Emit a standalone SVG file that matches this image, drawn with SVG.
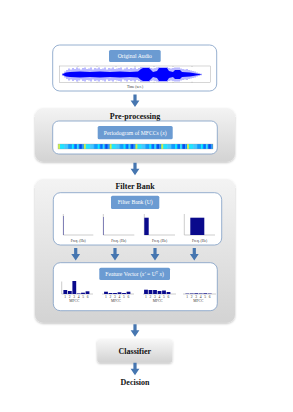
<svg xmlns="http://www.w3.org/2000/svg" width="293" height="412" viewBox="0 0 293 412">
<style>
text{font-family:"Liberation Serif","Times New Roman",serif;}
.title{font-size:8px;font-weight:bold;fill:#111;text-anchor:middle;}
.lbl{font-size:5.7px;fill:#fff;text-anchor:middle;}
.lblbox{fill:#6b9bd2;}
.inner{fill:#fff;stroke:#7c9cc4;stroke-width:0.8;}
.outer{fill:url(#gray);filter:url(#sh);}
.tiny{font-size:3.6px;fill:#333;text-anchor:middle;}
.ax{stroke:#9a9a9a;stroke-width:0.5;fill:none;}
.bar{fill:#0a0a8c;}
.arrow{fill:#4676b0;}
</style>
<defs>
<linearGradient id="gray" x1="0" y1="0" x2="0" y2="1">
<stop offset="0" stop-color="#f3f3f3"/>
<stop offset="1" stop-color="#d3d3d3"/>
</linearGradient>
<linearGradient id="cls" x1="0" y1="0" x2="0" y2="1">
<stop offset="0" stop-color="#f7f7f7"/>
<stop offset="1" stop-color="#d2d2d2"/>
</linearGradient>
<filter id="sh" x="-10%" y="-10%" width="120%" height="130%">
<feDropShadow dx="0" dy="1" stdDeviation="1" flood-color="#000" flood-opacity="0.25"/>
</filter>
<pattern id="jet" patternUnits="userSpaceOnUse" x="58" y="144" width="25.8" height="5">
<rect x="0" y="0" width="2" height="5" fill="#c8f050"/>
<rect x="2" y="0" width="4" height="5" fill="#20e4ff"/>
<rect x="6" y="0" width="4" height="5" fill="#40c8ff"/>
<rect x="10" y="0" width="4" height="5" fill="#109cff"/>
<rect x="14" y="0" width="2" height="5" fill="#00e8ff"/>
<rect x="16" y="0" width="3" height="5" fill="#0070ff"/>
<rect x="19" y="0" width="2" height="5" fill="#20d8ff"/>
<rect x="21" y="0" width="3" height="5" fill="#0050f0"/>
<rect x="24" y="0" width="1.8" height="5" fill="#1090ff"/>
</pattern>
<path id="arr" d="M-1.6,0 H1.6 V6 H4.4 L0,12.5 L-4.4,6 H-1.6 Z"/>
</defs>

<g id="node-original-audio">
<rect class="inner" x="52.7" y="45" width="164" height="46" rx="7"/>
<rect class="lblbox" x="109" y="50" width="51.7" height="12" rx="1.5"/>
<text class="lbl" x="134.8" y="58">Original Audio</text>
<rect x="59.3" y="66" width="151.4" height="16.7" fill="#fff" stroke="#9a9a9a" stroke-width="0.4"/>
<path class="ax" stroke-width="0.3" d="M78,66v1M97,66v1M116,66v1M135,66v1M154,66v1M173,66v1M192,66v1M78,82.7v-1M97,82.7v-1M116,82.7v-1M135,82.7v-1M154,82.7v-1M173,82.7v-1M192,82.7v-1"/>
<path fill="#0000ff" d="M62,74.5 L64,73.5 L66,72.5 L70,72 L80,71.5 L90,72 L100,71.5 L110,72 L120,71.5 L130,72 L138,71.5 L141,69 L143,68 L149,68 L151,70 L153,72 L157,71 L159,68 L167,68 L169,71 L173,72 L175,70 L180,70 L182,72 L190,72.5 L196,73.5 L202,74.5 L196,75.5 L190,76.5 L182,77 L180,79 L175,79 L173,77 L169,78 L167,81 L159,81 L157,78 L153,77 L151,79 L149,81 L143,81 L141,80 L138,77.5 L130,77 L120,77.5 L110,77 L100,77.5 L90,77 L80,77.5 L70,77 L66,76.5 L64,75.5 Z"/>
<path stroke="#0000ff" stroke-width="0.55" fill="none" d="M63,73V76M65,71.5V77.5M67,70V79M69,68.5V80.5M71,69.5V79.5M73,68V81M75,69V80M77,67.5V81.5M79,68.5V80.5M81,69.5V79.5M83,68V81M85,67.5V81.5M87,69V80M89,68.5V80.5M91,67.5V81.5M93,69.5V79.5M95,68V81M97,68.5V80.5M99,67.5V81.5M101,69V80M103,68.5V80.5M105,67.5V81.5M107,69.5V79.5M109,68V81M111,68.5V80.5M113,67.5V81.5M115,69V80M117,68.5V80.5M119,68V81M121,67.5V81.5M123,69.5V79.5M125,68.5V80.5M127,67.5V81.5M129,69V80M131,68V81M133,68.5V80.5M135,67.5V81.5M137,69V80M139,68V81M141,67V82M143,67V82M145,67V82M147,67V82M149,67V82M151,68V81M153,68.5V80.5M155,68V81M157,67.5V81.5M159,67V82M161,67V82M163,67V82M165,67V82M167,67V82M169,68V81M171,68.5V80.5M173,68V81M175,67.5V81.5M177,67.5V81.5M179,67.5V81.5M181,68.5V80.5M183,69V80M185,69.5V79.5M187,69V80M189,70V79M191,70.5V78.5M193,71V78M195,71.5V77.5M197,72.5V76.5M199,73V76M201,73.7V75.3"/>
<text class="tiny" x="135" y="88" font-size="3.3px">Time (sec.)</text>
</g>

<g id="node-preprocessing">
<rect class="outer" x="35" y="108.3" width="200" height="53.4" rx="8"/>
<text class="title" x="135" y="118.8">Pre-processing</text>
<rect class="inner" x="52.7" y="121" width="164.6" height="33" rx="6"/>
<rect class="lblbox" x="97.7" y="126" width="75" height="13.3" rx="1.5"/>
<text class="lbl" x="135.2" y="134.6" font-size="5.5px">Periodogram of MFCCs (<tspan font-style="italic">x</tspan>)</text>
<rect x="58" y="144" width="155" height="5" fill="url(#jet)" stroke="#9a9a9a" stroke-width="0.3"/>
</g>

<g id="node-filterbank">
<rect class="outer" x="35" y="179.3" width="200" height="143.4" rx="8"/>
<text class="title" x="135" y="188.5">Filter Bank</text>
<rect class="inner" x="53.3" y="192.7" width="168.4" height="52.3" rx="7"/>
<rect class="lblbox" x="111" y="195.7" width="48.3" height="13.3" rx="1.5"/>
<text class="lbl" x="135.2" y="204.4" font-size="5.8px">Filter Bank (U)</text>
<g id="fb-plots">
<path class="ax" d="M63.3,214V235H93.3M103.3,214V235H134.3M144.3,214V235H175M184.3,214V235H215"/>
<rect class="bar" x="63.3" y="216" width="0.7" height="19" opacity="0.6"/>
<rect class="bar" x="103.3" y="217" width="0.7" height="18" opacity="0.6"/>
<rect class="bar" x="144.3" y="217.7" width="4.4" height="17.3"/>
<rect class="bar" x="190.3" y="217.7" width="14" height="17.3"/>
<text class="tiny" x="78.3" y="241.6">Freq. (Hz)</text>
<text class="tiny" x="118.8" y="241.6">Freq. (Hz)</text>
<text class="tiny" x="159.6" y="241.6">Freq. (Hz)</text>
<text class="tiny" x="199.6" y="241.6">Freq. (Hz)</text>
</g>
</g>

<g id="node-feature-vector">
<rect class="inner" x="53.3" y="262.7" width="164" height="48" rx="7"/>
<rect class="lblbox" x="99.3" y="267.7" width="70.7" height="12.3" rx="1.5"/>
<text class="lbl" x="134.6" y="276" font-size="5.6px">Feature Vector (<tspan font-style="italic">x'</tspan> = U<tspan dy="-2" font-size="3.6px">T</tspan><tspan dy="2" font-style="italic"> x</tspan>)</text>
<path class="ax" d="M61.7,281.5V294H93M102,294H134M143,294H176M183,294H216"/>
<rect class="bar" x="63.4" y="290" width="3.8" height="4"/>
<rect class="bar" x="67.9" y="291" width="3.8" height="3"/>
<rect class="bar" x="72.4" y="281" width="3.8" height="13"/>
<rect class="bar" x="76.9" y="293.5" width="3.8" height="0.5"/>
<rect class="bar" x="81.1" y="292.7" width="3.8" height="1.3"/>
<rect class="bar" x="85.6" y="291.3" width="3.8" height="2.7"/>
<rect class="bar" x="104.1" y="291.7" width="3.8" height="2.3"/>
<rect class="bar" x="108.6" y="293" width="3.8" height="1"/>
<rect class="bar" x="113.1" y="293" width="3.8" height="1"/>
<rect class="bar" x="117.6" y="292.3" width="3.8" height="1.7"/>
<rect class="bar" x="122.1" y="293" width="3.8" height="1"/>
<rect class="bar" x="126.6" y="291.7" width="3.8" height="2.3"/>
<rect class="bar" x="144.1" y="289.7" width="3.8" height="4.3"/>
<rect class="bar" x="148.6" y="290" width="3.8" height="4"/>
<rect class="bar" x="153.1" y="290" width="3.8" height="4"/>
<rect class="bar" x="157.6" y="291" width="3.8" height="3"/>
<rect class="bar" x="162.1" y="290.5" width="3.8" height="3.5"/>
<rect class="bar" x="166.6" y="292" width="3.8" height="2"/>
<rect class="bar" x="185.4" y="293.6" width="3.8" height="0.4"/>
<rect class="bar" x="189.9" y="293.5" width="3.8" height="0.5"/>
<rect class="bar" x="194.4" y="293.3" width="3.8" height="0.7"/>
<rect class="bar" x="198.9" y="293.5" width="3.8" height="0.5"/>
<rect class="bar" x="203.4" y="293.3" width="3.8" height="0.7"/>
<rect class="bar" x="207.9" y="293.6" width="3.8" height="0.4"/>
<text class="tiny" x="76.9" y="298.4" letter-spacing="0.9">1 2 3 4 5 6</text>
<text class="tiny" x="117.6" y="298.4" letter-spacing="0.9">1 2 3 4 5 6</text>
<text class="tiny" x="157.6" y="298.4" letter-spacing="0.9">1 2 3 4 5 6</text>
<text class="tiny" x="198.9" y="298.4" letter-spacing="0.9">1 2 3 4 5 6</text>
<text class="tiny" x="74.3" y="302.4" font-size="3.2px">MFCC</text>
<text class="tiny" x="116" y="302.4" font-size="3.2px">MFCC</text>
<text class="tiny" x="157.7" y="302.4" font-size="3.2px">MFCC</text>
<text class="tiny" x="198.3" y="302.4" font-size="3.2px">MFCC</text>
</g>

<g id="node-classifier">
<rect x="97.3" y="339.3" width="75" height="23.4" rx="3" fill="url(#cls)" filter="url(#sh)"/>
<text class="title" x="134.8" y="353.8" font-size="7.7px">Classifier</text>
</g>

<g id="node-decision">
<text class="title" x="135" y="384.5">Decision</text>
</g>

<g id="connectors" class="arrow">
<use href="#arr" x="135" y="94.5"/>
<use href="#arr" x="135" y="162.7"/>
<use href="#arr" x="75.7" y="248"/>
<use href="#arr" x="115" y="248"/>
<use href="#arr" x="155" y="248"/>
<use href="#arr" x="194.3" y="248"/>
<use href="#arr" x="135" y="324.2"/>
<use href="#arr" x="135" y="362.7"/>
</g>
</svg>
